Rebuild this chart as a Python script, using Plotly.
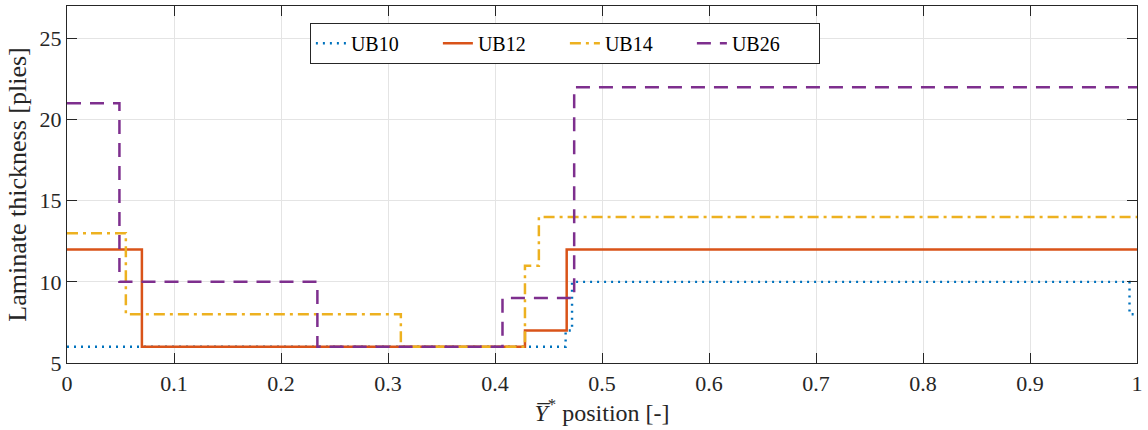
import plotly.graph_objects as go

# Data: step breakpoints (x) and laminate thickness (y)
ub10_x = [0, 0.466, 0.472, 0.993, 1.0]
ub10_y = [6, 7, 10, 8, 8]
ub12_x = [0, 0.070, 0.428, 0.467, 1.0]
ub12_y = [12, 6, 7, 12, 12]
ub14_x = [0, 0.055, 0.312, 0.428, 0.441, 1.0]
ub14_y = [13, 8, 6, 11, 14, 14]
ub26_x = [0, 0.049, 0.234, 0.407, 0.474, 1.0]
ub26_y = [21, 10, 6, 9, 22, 22]

x_ticks = [0, 0.1, 0.2, 0.3, 0.4, 0.5, 0.6, 0.7, 0.8, 0.9, 1.0]
x_ticklabels = ["0", "0.1", "0.2", "0.3", "0.4", "0.5", "0.6", "0.7", "0.8", "0.9", "1"]
y_ticks = [5, 10, 15, 20, 25]

FONT = "Liberation Serif"
TXT = "#262626"

fig = go.Figure()
fig.add_trace(go.Scatter(x=ub10_x, y=ub10_y, name="UB10", mode="lines", line_shape="hv",
                         line=dict(color="#0072BD", width=2.4, dash="2px,5px")))
fig.add_trace(go.Scatter(x=ub12_x, y=ub12_y, name="UB12", mode="lines", line_shape="hv",
                         line=dict(color="#D95319", width=2.5)))
fig.add_trace(go.Scatter(x=ub14_x, y=ub14_y, name="UB14", mode="lines", line_shape="hv",
                         line=dict(color="#EDB120", width=2.5, dash="11px,5px,3px,5px")))
fig.add_trace(go.Scatter(x=ub26_x, y=ub26_y, name="UB26", mode="lines", line_shape="hv",
                         line=dict(color="#7E2F8E", width=2.5, dash="14px,9px")))

fig.update_xaxes(range=[0, 1], tickvals=x_ticks, ticktext=x_ticklabels,
                 showline=True, linecolor=TXT, linewidth=1.2, mirror="ticks",
                 ticks="inside", ticklen=10, tickcolor=TXT, tickwidth=1.2,
                 showgrid=True, gridcolor="#e4e4e4", gridwidth=1, zeroline=False,
                 tickfont=dict(family=FONT, size=22, color=TXT),
                 title=dict(text="<i>Y\u0305</i><sup>*</sup> position [-]",
                            font=dict(family=FONT, size=24, color=TXT), standoff=3))
fig.update_yaxes(range=[5, 27], tickvals=y_ticks,
                 showline=True, linecolor=TXT, linewidth=1.2, mirror="ticks",
                 ticks="inside", ticklen=10, tickcolor=TXT, tickwidth=1.2,
                 showgrid=True, gridcolor="#e4e4e4", gridwidth=1, zeroline=False,
                 tickfont=dict(family=FONT, size=22, color=TXT),
                 title=dict(text="Laminate thickness [plies]",
                            font=dict(family=FONT, size=26, color=TXT), standoff=5))

fig.update_layout(
    width=1148, height=430,
    margin=dict(l=67, r=7, t=5, b=67),
    plot_bgcolor="white", paper_bgcolor="white",
    font=dict(family=FONT, size=20, color="#000000"),
    showlegend=True,
    legend=dict(orientation="h", x=0.227, y=0.953, xanchor="left", yanchor="top",
                bgcolor="white", bordercolor=TXT, borderwidth=1,
                font=dict(family=FONT, size=20, color="#000000"),
                entrywidth=82, entrywidthmode="pixels"),
)

fig.write_html("out.html")
